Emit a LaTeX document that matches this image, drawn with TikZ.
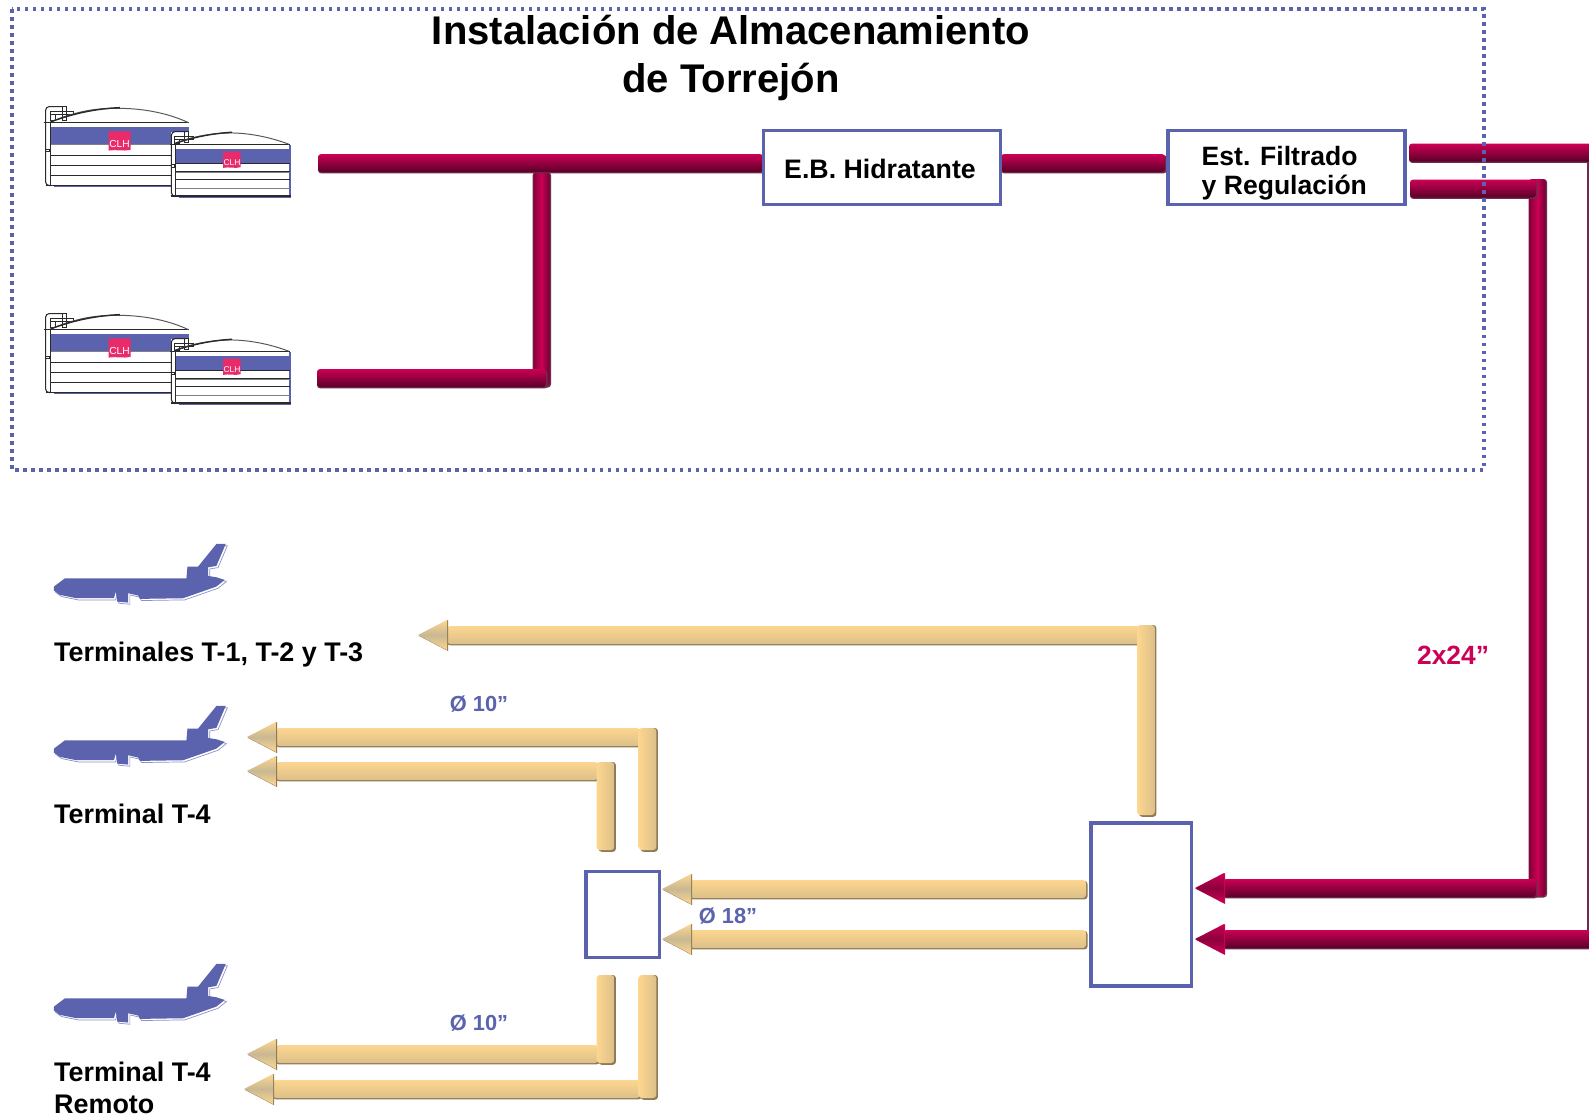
\documentclass[tikz,border=0pt]{standalone}
\usepackage{fontspec}
\setmainfont{Liberation Sans}
\usetikzlibrary{calc}
\definecolor{boxblue}{HTML}{5B63AE}
\definecolor{crim}{HTML}{CC0055}
\definecolor{crimdark}{HTML}{5A0028}
\definecolor{crimshadow}{HTML}{6E2C4C}
\definecolor{tanlight}{HTML}{FDD68F}
\definecolor{tanlow}{HTML}{DCC08A}
\definecolor{tanshadow}{HTML}{8F7A55}
\definecolor{tanmid}{HTML}{C9B892}
\definecolor{logopink}{HTML}{EA2B69}
\definecolor{tankline}{HTML}{2A2A2A}
\tikzset{
  boxnode/.style={draw=boxblue,line width=1pt,inner sep=0},
  labelbig/.style={inner sep=0,font=\fontsize{11.38pt}{13.5pt}\selectfont\bfseries,align=center},
  labelmid/.style={inner sep=0,font=\fontsize{7.6pt}{8.3pt}\selectfont\bfseries,align=left},
  labeltwo/.style={inner sep=0,font=\fontsize{7.65pt}{9.1pt}\selectfont\bfseries,align=left,anchor=west},
  labelest/.style={inner sep=0,font=\fontsize{7.55pt}{8.1pt}\selectfont\bfseries,align=left,anchor=west},
  labelblue/.style={inner sep=0,font=\fontsize{6.2pt}{7pt}\selectfont\bfseries,text=boxblue},
  labelred/.style={inner sep=0,font=\fontsize{7.5pt}{8pt}\selectfont\bfseries,text=crim},
  pipecorner/.style={rounded corners=0.9pt},
}
% horizontal pipe between two named centre points
\newcommand{\hpipe}[5]{% a, b, top, bottom, shadow
  \fill[#5,pipecorner] ($(#1)+(0,-8)$) rectangle ($(#2)+(1.6,10.4)$);
  \shade[top color=#3,bottom color=#4,pipecorner] ($(#1)+(0,-9)$) rectangle ($(#2)+(0,9)$);
}
% vertical pipe
\newcommand{\vpipe}[5]{% a, b, left, right, shadow
  \fill[#5,pipecorner] ($(#1)+(-7,0)$) rectangle ($(#2)+(10.4,1.8)$);
  \shade[left color=#3,right color=#4,pipecorner] ($(#1)+(-8.8,0)$) rectangle ($(#2)+(8.8,0)$);
}
\newcommand{\redh}[2]{\hpipe{#1}{#2}{crim}{crimdark}{crimshadow}}
\newcommand{\redv}[2]{%
  \fill[crimshadow,pipecorner] ($(#1)+(-8.8,0)$) rectangle ($(#2)+(9.5,1.5)$);
  \shade[left color=crimdark!60!crim,right color=crimdark!80!crim,middle color=crim,pipecorner] ($(#1)+(-8,0)$) rectangle ($(#2)+(8,0)$);
}
\newcommand{\tanhz}[2]{\hpipe{#1}{#2}{tanlight}{tanlow}{tanshadow}}
\newcommand{\tanvt}[2]{\vpipe{#1}{#2}{tanlight}{tanlow}{tanshadow}}
% arrow head: tip name, half height, edge colour, centre colour, shadow
\newcommand{\headshape}[5]{%
  \fill[#5] ($(#1)+(0.8,0.8)$) -- ($(#1)+(30,#2+1)$) -- ($(#1)+(30,-#2)$) -- cycle;
  \begin{scope}
    \clip (#1) -- ($(#1)+(29,#2)$) -- ($(#1)+(29,-#2)$) -- cycle;
    \shade[top color=#3,bottom color=#3,middle color=#4] ($(#1)+(0,-#2)$) rectangle ($(#1)+(29,#2)$);
  \end{scope}
}
\newcommand{\redhead}[1]{\headshape{#1}{15}{crim}{crimdark!55!crim}{crim}}
\newcommand{\tanhead}[1]{\headshape{#1}{15}{tanlight}{tanmid}{tanshadow}}
% plane drawn in 3x zoom units
\newcommand{\planeshape}{(42,170) -- (75,145) -- (440,145) -- (443,110) -- (475,110) -- (530,42) -- (558,42) -- (530,108) -- (505,112) -- (505,138) -- (530,142) -- (555,150) -- (530,170) -- (430,205) -- (300,207) -- (295,197) -- (265,190) -- (265,218) -- (232,215) -- (228,185) -- (222,205) -- (110,205) -- (60,195) -- (42,182) -- cycle}
\newcommand{\plane}[1]{%
  \begin{scope}[shift={(40,#1)},x=0.0033333cm,y=-0.0033333cm]
    \begin{scope}[shift={(5,5)}]
      \draw[boxblue!70,line width=0.2pt,fill=white] \planeshape;
    \end{scope}
    \fill[boxblue] \planeshape;
  \end{scope}
}
\newcommand{\tanks}[1]{%
  \begin{scope}[shift={(30,#1)},x=0.0033333cm,y=-0.0033333cm,line cap=butt]
    % big tank
    \fill[boxblue] (72,286) rectangle (440,292);
    \fill[white] (47,98) rectangle (478,286);
    \fill[boxblue] (62,110) rectangle (478,164);
    \draw[gray,line width=0.3pt] (62,164) -- (430,164);
    \draw[tankline,line width=0.32pt] (62,196) -- (430,196) (62,227) -- (430,227) (62,257) -- (430,257);
    \draw[tankline,line width=0.42pt] (62,98) -- (62,286) (47,287) -- (430,287) (42,98) -- (478,98);
    \draw[tankline,line width=0.3pt,rounded corners=1pt] (62,287) -- (47,287) -- (47,50) -- (100,50);
    \draw[tankline,line width=0.22pt] (47,178) rectangle (57,184) (60,65) rectangle (130,72) (60,72) rectangle (75,92) (98,50) rectangle (108,90);
    \draw[gray!70!black,line width=0.28pt] (62,96) .. controls (150,60) and (200,55) .. (270,55) .. controls (350,56) and (420,72) .. (476,98);
    \draw[tankline,line width=0.4pt] (62,96) .. controls (130,70) and (200,56) .. (270,53);
    \fill[logopink] (236,124) -- (302,124) -- (302,180) .. controls (280,185) and (258,178) .. (236,182) -- cycle;
    \node[inner sep=0,text=white,font=\fontsize{2.9pt}{3pt}\selectfont] (clhA#1) at (269,163) {CLH};
    % small tank
    \fill[boxblue] (447,318) rectangle (784,325);
    \fill[boxblue] (776,165) rectangle (783,322);
    \fill[white] (425,125) rectangle (777,318);
    \fill[boxblue] (440,178) rectangle (778,220);
    \draw[tankline,line width=0.32pt] (437,220) -- (780,220) (437,245) -- (780,245) (437,270) -- (780,270) (437,295) -- (780,295);
    \draw[gray,line width=0.2pt] (437,247) -- (780,247) (437,297) -- (780,297);
    \draw[tankline,line width=0.42pt] (437,163) -- (437,319) (425,319) -- (783,319) (422,163) -- (780,163);
    \draw[tankline,line width=0.3pt,rounded corners=1pt] (437,319) -- (425,319) -- (425,125) -- (470,125);
    \draw[tankline,line width=0.22pt] (425,225) rectangle (434,232) (435,140) rectangle (490,147) (435,147) rectangle (448,160) (465,125) rectangle (475,158);
    \draw[gray!70!black,line width=0.28pt] (437,160) .. controls (500,135) and (560,130) .. (605,129) .. controls (670,130) and (730,145) .. (778,163);
    \draw[tankline,line width=0.4pt] (437,160) .. controls (490,142) and (550,130) .. (607,127);
    \fill[logopink] (580,185) -- (633,185) -- (633,232) .. controls (615,237) and (598,230) .. (580,234) -- cycle;
    \node[inner sep=0,text=white,font=\fontsize{2.4pt}{3pt}\selectfont] (clhB#1) at (607,218) {CLH};
  \end{scope}
}
\begin{document}
\begin{tikzpicture}[x=0.01cm,y=-0.01cm]
\useasboundingbox (0,0) rectangle (1589,1115);
\fill[white] (0,0) rectangle (1589,1115);

% named pipe ends
\coordinate (t1) at (318,163);
\coordinate (t2) at (763,163);
\coordinate (t3) at (1001,163);
\coordinate (t4) at (1165,163);
\coordinate (v1a) at (541.5,172);
\coordinate (v1b) at (541.5,386);
\coordinate (t5) at (317,378);
\coordinate (t6) at (546,378);

\coordinate (r1a) at (1409,152.5);
\coordinate (r1b) at (1592,152.5);
\coordinate (r2a) at (1410,188.5);
\coordinate (r2b) at (1536,188.5);
\coordinate (r3a) at (1537.5,179);
\coordinate (r3b) at (1537.5,896);
\coordinate (r4a) at (1223,888);
\coordinate (r4b) at (1536,888);
\coordinate (r4t) at (1195,888);
\coordinate (r5a) at (1223,939);
\coordinate (r5b) at (1592,939);
\coordinate (r5t) at (1195,939);

\coordinate (a1a) at (447,635);
\coordinate (a1b) at (1140,635);
\coordinate (a1t) at (418,635);
\coordinate (a1va) at (1146,625);
\coordinate (a1vb) at (1146,815);

\coordinate (b1a) at (276,737);
\coordinate (b1b) at (640,737);
\coordinate (b1t) at (247,737);
\coordinate (b1va) at (647.5,728);
\coordinate (b1vb) at (647.5,850);
\coordinate (b2a) at (276,771);
\coordinate (b2b) at (598,771);
\coordinate (b2t) at (247,771);
\coordinate (b2va) at (605.5,762);
\coordinate (b2vb) at (605.5,850);

\coordinate (c1a) at (690,889);
\coordinate (c1b) at (1086,889);
\coordinate (c1t) at (662,889);
\coordinate (c2a) at (690,939);
\coordinate (c2b) at (1086,939);
\coordinate (c2t) at (662,939);

\coordinate (d1a) at (276,1054);
\coordinate (d1b) at (598,1054);
\coordinate (d1t) at (247,1054);
\coordinate (d1va) at (605.5,975);
\coordinate (d1vb) at (605.5,1063);
\coordinate (d2a) at (273,1089);
\coordinate (d2b) at (640,1089);
\coordinate (d2t) at (244,1089);
\coordinate (d2va) at (647.5,975);
\coordinate (d2vb) at (647.5,1098);

% far right pipe edge
\coordinate (edgea) at (1588,160);
\coordinate (edgeb) at (1588,932);
\draw[crimshadow,line width=0.7pt] (edgea) -- (edgeb);

% red pipes
\redv{v1a}{v1b}
\redh{t1}{t2}
\redh{t3}{t4}
\redh{t5}{t6}
\redv{r3a}{r3b}
\redh{r2a}{r2b}
\redh{r1a}{r1b}
\redh{r4a}{r4b}
\redh{r5a}{r5b}
\redhead{r4t}
\redhead{r5t}

% tan pipes
\tanhz{a1a}{a1b}\tanvt{a1va}{a1vb}\tanhead{a1t}
\tanhz{b1a}{b1b}\tanvt{b1va}{b1vb}\tanhead{b1t}
\tanhz{b2a}{b2b}\tanvt{b2va}{b2vb}\tanhead{b2t}
\tanhz{c1a}{c1b}\tanhead{c1t}
\tanhz{c2a}{c2b}\tanhead{c2t}
\tanhz{d1a}{d1b}\tanvt{d1va}{d1vb}\tanhead{d1t}
\tanhz{d2a}{d2b}\tanvt{d2va}{d2vb}\tanhead{d2t}

% boxes
\node[boxnode,minimum width=2.365cm,minimum height=0.74cm] (eb) at (882,167.5) {};
\node[boxnode,minimum width=2.365cm,minimum height=0.74cm] (est) at (1286.5,167.5) {};
\node[boxnode,minimum width=1.005cm,minimum height=1.625cm] (big) at (1141,904.5) {};
\node[boxnode,minimum width=0.735cm,minimum height=0.86cm] (small) at (622.5,914.5) {};

% dotted frame
\draw[boxblue,line width=1pt,dash pattern=on 1pt off 1.276pt] (12,9) rectangle (1484,470);

% tanks and planes
\tanks{90}
\tanks{297}
\plane{530}
\plane{692}
\plane{950}

% texts
\node[labelbig] (title) at (731,58) {Instalación de Almacenamiento\\de Torrejón};
\node[labelmid] (ebt) at (880,169) {E.B. Hidratante};
\node[labelest] (estt) at (1201,173) {Est. Filtrado\\y Regulación};
\node[labeltwo] (l1) at (53.5,655) {Terminales T-1, T-2 y T-3};
\node[labeltwo] (l2) at (53.5,814) {Terminal T-4};
\node[labeltwo] (l3) at (53.5,1088) {Terminal T-4\\Remoto};
\node[labelblue] (d10a) at (479,704) {Ø 10”};
\node[labelblue] (d18) at (728,916) {Ø 18”};
\node[labelblue] (d10b) at (479,1023) {Ø 10”};
\node[labelred] (d24) at (1453,655) {2x24”};
\end{tikzpicture}
\end{document}
